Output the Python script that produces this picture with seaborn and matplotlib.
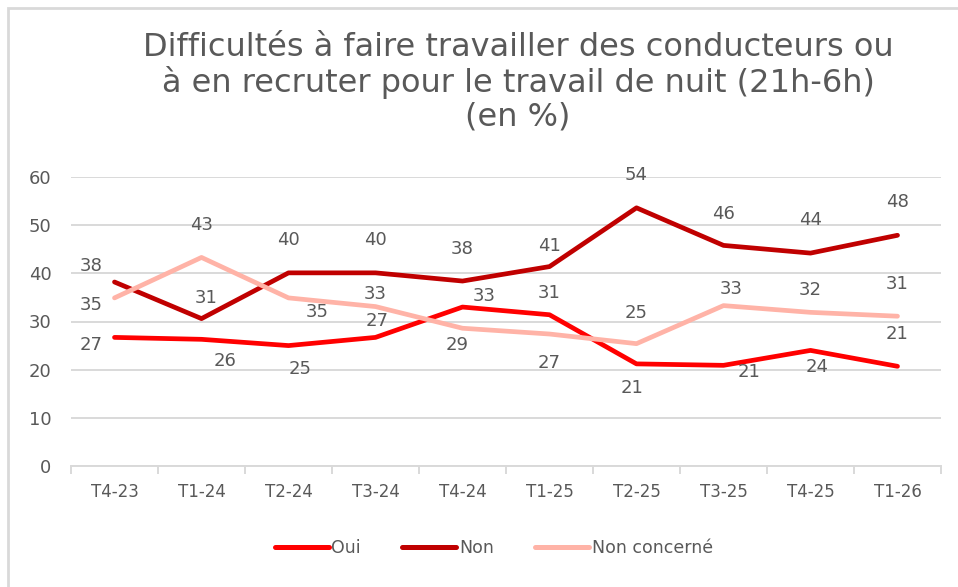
import numpy as np
import pandas as pd
import matplotlib.pyplot as plt
import seaborn as sns
from matplotlib.patches import Rectangle

# data (%)
trimestres = ['T4-23', 'T1-24', 'T2-24', 'T3-24', 'T4-24', 'T1-25', 'T2-25', 'T3-25', 'T4-25', 'T1-26']
oui = [26.7, 26.3, 25.0, 26.7, 33.0, 31.4, 21.2, 20.9, 24.0, 20.7]
non = [38.2, 30.6, 40.1, 40.1, 38.4, 41.4, 53.6, 45.8, 44.2, 47.9]
non_concerne = [34.9, 43.3, 34.9, 33.1, 28.6, 27.4, 25.4, 33.3, 31.9, 31.1]
series_names = ['Oui', 'Non', 'Non concerné']

title = ("Difficultés à faire travailler des conducteurs ou\n"
         "à en recruter pour le travail de nuit (21h-6h)\n(en %)")

# label placement (pixels from point: dx right, dy up)
label_off = {
    'Oui': [(-23, -8), (24, -22), (12, -23), (2, 16), (22, 11), (0, 22), (-4, -24), (26, -7), (7, -17), (0, 32)],
    'Non': [(-23, 16), (5, 21), (0, 33), (0, 33), (0, 32), (0, 21), (0, 33), (0, 31), (0, 33), (0, 33)],
    'Non concerné': [(-23, -7), (0, 32), (29, -14), (0, 13), (-5, -17), (0, -29), (0, 31), (8, 17), (0, 22), (0, 32)],
}

df = pd.DataFrame({
    'trimestre': trimestres * 3,
    'serie': np.repeat(series_names, len(trimestres)),
    'valeur': oui + non + non_concerne,
})

palette = {'Oui': '#FF0000', 'Non': '#C00000', 'Non concerné': '#FFB3A7'}
grey = '#595959'

sns.set_theme(style='white')
plt.rcParams['font.family'] = ['DejaVu Sans']

fig = plt.figure(figsize=(9.58, 5.87), dpi=100)
ax = fig.add_axes([71 / 958, 1 - 466 / 587, 870 / 958, 289 / 587])

sns.lineplot(data=df, x='trimestre', y='valeur', hue='serie', palette=palette,
             hue_order=series_names, linewidth=3.4, sort=False, ax=ax, legend=True)
for ln in ax.lines:
    ln.set_solid_capstyle('round')
    ln.set_solid_joinstyle('round')

# data labels
for name in series_names:
    vals = df.loc[df['serie'] == name, 'valeur'].to_numpy()
    for i, v in enumerate(vals):
        dx, dy = label_off[name][i]
        ax.annotate(f'{round(v):d}', (i, v), xytext=(dx, dy), textcoords='offset pixels',
                    ha='center', va='center', fontsize=13, color=grey)

ax.set_xlim(-0.5, len(trimestres) - 0.5)
ax.set_ylim(0, 60)
ax.set_yticks(range(0, 61, 10))
ax.yaxis.grid(True, color='#D9D9D9', linewidth=1.4)
ax.set_axisbelow(True)
for s in ['top', 'right', 'left']:
    ax.spines[s].set_visible(False)
ax.spines['bottom'].set_color('#D9D9D9')
ax.spines['bottom'].set_linewidth(1.4)

ax.set_xticks(np.arange(len(trimestres)))
ax.set_xticklabels(trimestres)
ax.set_xticks(np.arange(-0.5, len(trimestres)), minor=True)
ax.tick_params(axis='x', which='major', length=0, pad=12, labelsize=12, labelcolor=grey)
ax.tick_params(axis='x', which='minor', length=6, width=1.4, color='#D9D9D9', bottom=True)
ax.tick_params(axis='y', length=0, pad=14, labelsize=13, labelcolor=grey)
ax.set_xlabel('')
ax.set_ylabel('')

leg = ax.legend(loc='center', bbox_to_anchor=(0.486, -0.285), ncol=3, frameon=False,
                fontsize=12.5, handlelength=3.1, handletextpad=0.15, columnspacing=2.4)
for t in leg.get_texts():
    t.set_color(grey)
for h in leg.legend_handles:
    h.set_linewidth(3.6)
    h.set_solid_capstyle('round')

fig.text(518 / 958, 1 - 82 / 587, title, ha='center', va='center', fontsize=23,
         color=grey, linespacing=1.12)

# chart area border
fig.patches.append(Rectangle((8 / 958, -0.05), 1.1, 1 - 8 / 587 + 0.05, transform=fig.transFigure,
                             fill=False, edgecolor='#D9D9D9', linewidth=2))

fig.savefig('out.png', dpi=100)
